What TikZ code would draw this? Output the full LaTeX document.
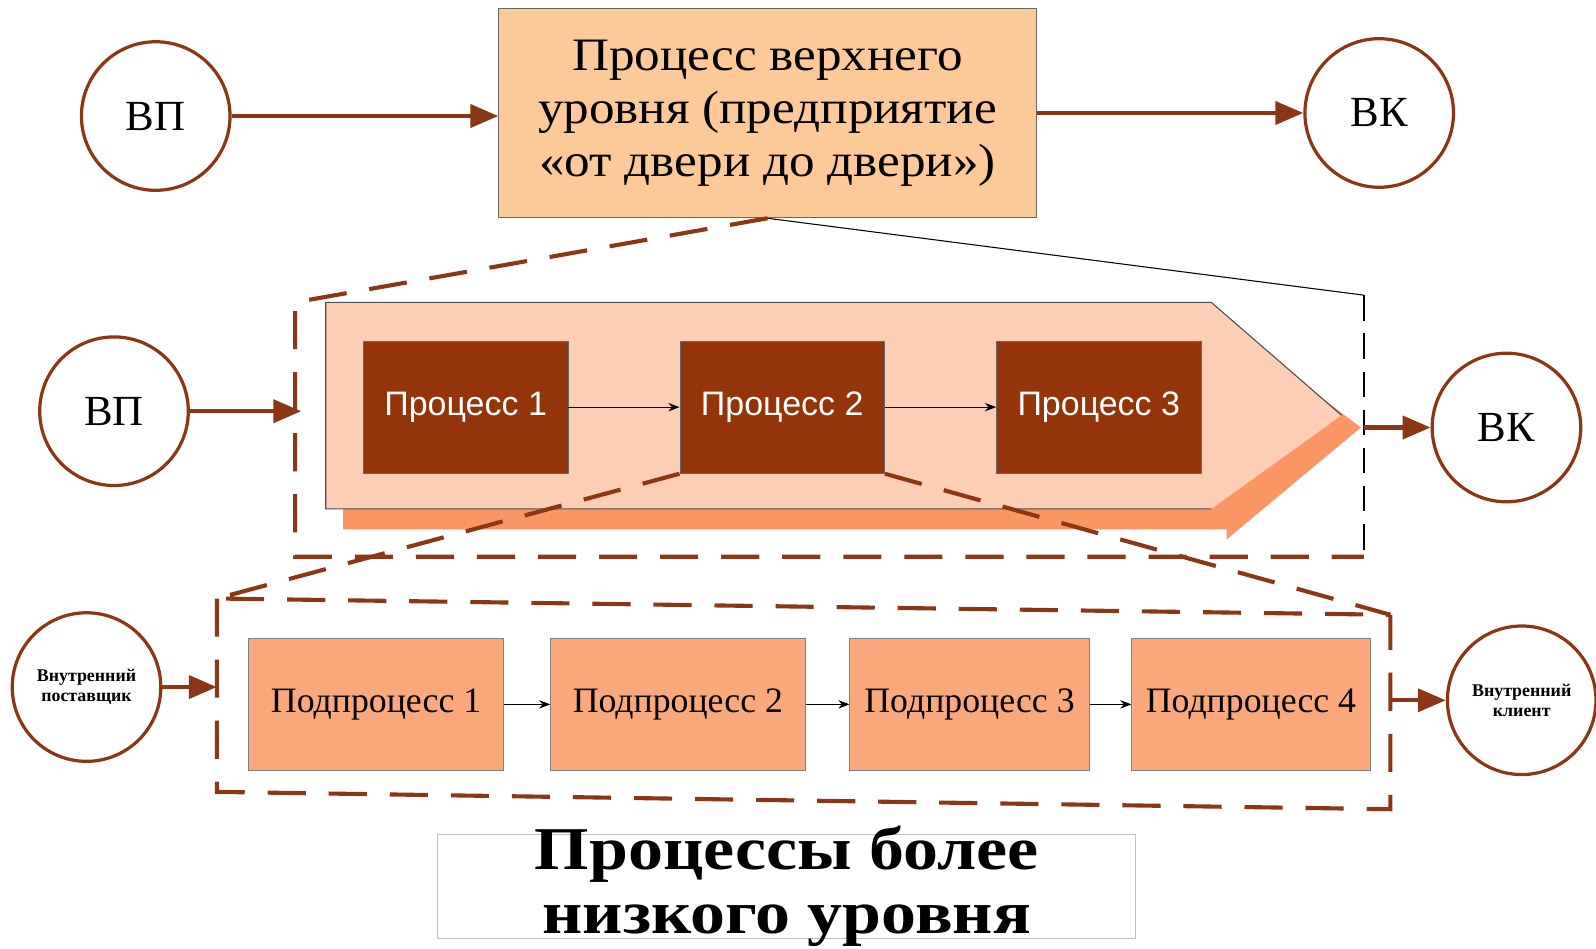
\documentclass[tikz,border=0pt]{standalone}
\usepackage{fontspec}
\setmainfont{Liberation Serif}
\newfontfamily\procfont{Liberation Sans}
\newfontfamily\widefont[FakeStretch=1.1]{Liberation Serif}
\newfontfamily\widerfont[FakeStretch=1.15]{Liberation Serif}
\usetikzlibrary{arrows.meta,positioning,calc}
\definecolor{brownline}{RGB}{140,55,20}
\definecolor{topfill}{RGB}{252,201,152}
\definecolor{arrowface}{RGB}{253,206,182}
\definecolor{arrowshade}{RGB}{250,150,100}
\definecolor{procfill}{RGB}{148,52,10}
\definecolor{subfill}{RGB}{251,168,125}

\begin{document}
\begin{tikzpicture}[x=0.02cm, y=-0.02cm,
    circ/.style={draw=brownline, line width=1.8pt, circle, fill=white,
                 minimum size=2.92cm, inner sep=0pt, align=center},
    procbox/.style={draw=black!60, line width=0.5pt, fill=procfill, text=white,
                    minimum width=4.02cm, minimum height=2.6cm,
                    font=\procfont\fontsize{19}{22}\selectfont},
    subbox/.style={draw=black!50, line width=0.5pt, fill=subfill,
                   minimum height=2.6cm, font=\fontsize{20}{23}\selectfont},
    bigarr/.style={draw=brownline, line width=2.4pt,
                   -{Triangle[length=0.55cm, width=0.45cm]}},
    smallarr/.style={draw=black, line width=0.5pt, -{Stealth[length=0.22cm]}},
    branddash/.style={draw=brownline, line width=2.3pt,
                      dash pattern=on 0.75cm off 0.45cm},
    blackdash/.style={draw=black, line width=1.2pt,
                      dash pattern=on 0.5cm off 0.25cm}]

    \useasboundingbox (0,0) rectangle (1568,932);

    % ---- Top level ----
    \node[draw=black!60, line width=0.5pt, fill=topfill, minimum width=10.56cm,
          minimum height=4.12cm, align=center,
          font=\widefont\fontsize{26}{29.5}\selectfont] (top) at (754,111) {
      Процесс верхнего\\
      уровня (предприятие\\
      «от двери до двери»)
    };
    \node[circ, font=\fontsize{24}{28}\selectfont] (vp_top) at (153,114) {ВП};
    \node[circ, font=\fontsize{24}{28}\selectfont] (vk_top) at (1355,111) {ВК};

    \draw[bigarr] (vp_top.east) -- (top.west |- vp_top);
    \draw[bigarr] (top.east |- vk_top) -- (vk_top.west);

    % ---- Middle level: frame ----
    \coordinate (mid_nw) at (290,297);
    \coordinate (mid_sw) at (290,547);
    \coordinate (mid_se) at (1340,547);
    \coordinate (mid_ne) at (1340,290);

    \draw[branddash] (top.south) -- (mid_nw) -- (mid_sw) -- (mid_se);
    \draw[black, line width=0.6pt] (top.south) -- (mid_ne);
    \draw[blackdash] (mid_ne) -- (mid_se);

    % ---- Middle level: 3D arrow ----
    \fill[arrowshade] (337,320) -- (1205,320) -- (1337,420) -- (1205,530)
                      -- (1205,520) -- (337,520) -- cycle;
    \fill[arrowface] (320,297) -- (1190,297) -- (1318,408) -- (1190,500)
                     -- (320,500) -- cycle;
    \draw[black!70, line width=0.6pt] (1318,408) -- (1190,297) -- (320,297)
                     -- (320,500) -- (1190,500);

    \node[procbox] (proc1) at (457.5,400) {Процесс 1};
    \node[procbox] (proc2) at (768.5,400) {Процесс 2};
    \node[procbox] (proc3) at (1079.5,400) {Процесс 3};

    \draw[smallarr] (proc1.east) -- (proc2.west);
    \draw[smallarr] (proc2.east) -- (proc3.west);

    \node[circ, font=\fontsize{24}{28}\selectfont] (vp_mid) at (112,404) {ВП};
    \node[circ, font=\fontsize{24}{28}\selectfont] (vk_mid) at (1480,420) {ВК};

    \draw[bigarr] (vp_mid.east) -- ([xshift=0.12cm]mid_nw |- vp_mid);
    \draw[bigarr] (mid_ne |- vk_mid) -- (vk_mid.west);

    % ---- Lower level: frame ----
    \coordinate (low_nw) at (213,588);
    \coordinate (low_ne) at (1366,604);
    \coordinate (low_sw) at (213,778);
    \coordinate (low_se) at (1366,795);

    \draw[branddash] (proc2.south west) -- (low_nw) -- (low_ne);
    \draw[branddash] (proc2.south east) -- (low_ne);
    \draw[branddash] (low_nw) -- (low_sw) -- (low_se) -- (low_ne);

    % ---- Lower level: subprocesses ----
    \node[subbox, minimum width=5.02cm] (sub1) at (369.5,692) {Подпроцесс 1};
    \node[subbox, minimum width=5.0cm]  (sub2) at (666,692)   {Подпроцесс 2};
    \node[subbox, minimum width=4.7cm]  (sub3) at (952.5,692) {Подпроцесс 3};
    \node[subbox, minimum width=4.68cm] (sub4) at (1229,692)  {Подпроцесс 4};

    \draw[smallarr] (sub1.east) -- (sub2.west);
    \draw[smallarr] (sub2.east) -- (sub3.west);
    \draw[smallarr] (sub3.east) -- (sub4.west);

    \node[circ, font=\bfseries\fontsize{10}{11}\selectfont] (supplier) at (85,675)
      {Внутренний\\поставщик};
    \node[circ, font=\bfseries\fontsize{10}{11}\selectfont] (client) at (1495,688)
      {Внутренний\\клиент};

    \draw[bigarr] (supplier.east) -- (low_nw |- supplier);
    \draw[bigarr] (low_ne |- client) -- (client.west);

    % ---- Caption ----
    \draw[black!25, line width=0.5pt] (430,820) rectangle (1116,922);
    \node[anchor=north, inner sep=0pt, align=center,
          font=\widerfont\bfseries\fontsize{34}{36}\selectfont] (caption) at (773,811) {
      Процессы более\\
      низкого уровня
    };

  \end{tikzpicture}
\end{document}
